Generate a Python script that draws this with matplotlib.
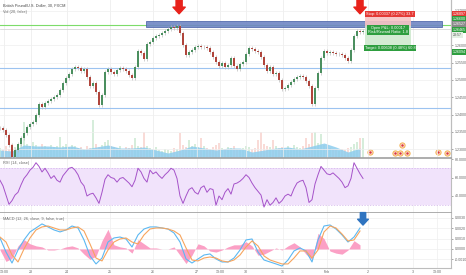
import matplotlib
matplotlib.use("Agg")
import numpy as np
import matplotlib.pyplot as plt
from matplotlib.patches import Rectangle
from matplotlib.transforms import blended_transform_factory

plt.rcParams['font.family'] = ['Liberation Sans', 'DejaVu Sans']

W, H = 466, 275
FS = 2.8

# ---------------- data (one sample every few 30-min bars) ----------------
close = [1.2361, 1.2355, 1.2341, 1.2312, 1.2277, 1.2297, 1.2315, 1.2332, 1.2347, 1.2364,
         1.2373, 1.2378, 1.2399, 1.2430, 1.2422, 1.2433, 1.2439, 1.2445, 1.2451, 1.2456,
         1.2471, 1.2491, 1.2506, 1.2517, 1.2532, 1.2537, 1.2534, 1.2526, 1.2532, 1.2508,
         1.2482, 1.2491, 1.2465, 1.2427, 1.2456, 1.2523, 1.2532, 1.2523, 1.2517, 1.2529,
         1.2534, 1.2532, 1.2526, 1.2514, 1.2506, 1.2537, 1.2584, 1.2578, 1.2560, 1.2604,
         1.2610, 1.2621, 1.2627, 1.2630, 1.2636, 1.2641, 1.2647, 1.2653, 1.2650, 1.2656,
         1.2636, 1.2601, 1.2572, 1.2581, 1.2586, 1.2595, 1.2598, 1.2595, 1.2595, 1.2592,
         1.2581, 1.2566, 1.2552, 1.2540, 1.2549, 1.2537, 1.2543, 1.2563, 1.2540, 1.2532,
         1.2546, 1.2552, 1.2575, 1.2592, 1.2589, 1.2584, 1.2581, 1.2566, 1.2543, 1.2526,
         1.2537, 1.2517, 1.2520, 1.2500, 1.2474, 1.2477, 1.2485, 1.2494, 1.2503, 1.2508,
         1.2511, 1.2508, 1.2497, 1.2482, 1.2430, 1.2477, 1.2520, 1.2563, 1.2584, 1.2578,
         1.2581, 1.2578, 1.2575, 1.2575, 1.2572, 1.2563, 1.2555, 1.2586, 1.2627, 1.2641,
         1.2638, 1.2641]

volume = [1000, 800, 1200, 900, 1400, 1100, 1300, 1500, 3600, 1400,
          1200, 1600, 1300, 1100, 1400, 1200, 1000, 1300, 1100, 1200,
          2100, 1200, 1400, 1100, 1300, 1200, 1000, 1100, 900, 1200,
          1000, 3800, 1400, 1100, 1300, 1600, 1800, 1200, 1100, 1000,
          1200, 900, 1100, 1000, 1300, 2000, 1200, 1100, 2600, 1200,
          1000, 900, 1100, 800, 700, 900, 800, 700, 1000, 900,
          2500, 1300, 1100, 1800, 1200, 1400, 1100, 2000, 1200, 1000,
          900, 1100, 1300, 1500, 1000, 900, 1100, 1000, 1200, 900,
          800, 1000, 1200, 1100, 900, 1000, 1800, 2600, 1400, 1200,
          1100, 1800, 1200, 1000, 1100, 900, 1200, 1000, 1300, 1100,
          1000, 1200, 2000, 1400, 2500, 2600, 1500, 2400, 1300, 1100,
          1000, 900, 800, 700, 900, 800, 1000, 1100, 1400, 1600,
          2000, 2000]

vol_ma_idx = list(range(0, 121, 4))
vol_ma = [800, 700, 1300, 1200, 1200, 1100, 1200, 900, 1100, 1300,
          1000, 1000, 1100, 800, 500, 800, 1200, 1000, 800, 1000,
          1000, 600, 800, 1000, 1100, 900, 1200, 1500, 1100, 600,
          1000]

rsi = [57, 51, 41, 31, 35, 41, 44, 52, 59, 63,
       68, 71, 76, 72, 66, 70, 65, 59, 62, 57,
       55, 62, 66, 70, 71, 68, 63, 55, 51, 40,
       42, 43, 38, 32, 44, 58, 63, 60, 59, 55,
       59, 60, 57, 54, 50, 57, 70, 66, 59, 55,
       68, 64, 66, 62, 59, 63, 66, 70, 68, 59,
       40, 32, 40, 47, 49, 44, 42, 49, 51, 44,
       48, 47, 30, 40, 36, 44, 48, 42, 53, 54,
       56, 59, 63, 60, 54, 49, 45, 41, 28, 36,
       30, 33, 38, 32, 35, 40, 42, 40, 48, 54,
       56, 57, 49, 33, 36, 53, 63, 72, 68, 64,
       63, 65, 62, 59, 55, 49, 51, 59, 76, 70,
       64, 59]

macd_idx = list(range(0, 121, 2))
macd = [10.6, -2.9, -13.5, -1.0, 8.7, 16.4, 20.2, 24.1, 21.2, 18.3,
        16.4, 18.3, 22.1, 20.2, 8.7, -6.7, -14.4, -8.7, 6.7, 10.6,
        11.5, 9.6, 1.9, 13.5, 19.2, 21.2, 21.2, 20.2, 19.2, 15.4,
        6.7, -9.6, -13.5, -9.6, -5.8, -4.8, -9.6, -12.5, -12.5, -8.7,
        -1.0, 8.7, 9.6, -2.9, -10.6, -12.5, -14.4, -16.4, -10.6, -1.9,
        1.0, -1.9, -12.5, 8.7, 22.1, 23.1, 19.2, 13.5, 6.7, 11.5,
        20.2]
signal = [11.5, 6.7, -5.8, -12.5, 0.0, 10.6, 18.3, 21.2, 22.1, 20.2,
          18.3, 18.3, 20.2, 21.2, 17.3, 4.8, -8.7, -11.5, -1.0, 6.7,
          9.6, 10.6, 6.7, 4.8, 13.5, 19.2, 20.2, 20.2, 19.2, 17.3,
          13.5, 1.0, -10.6, -11.5, -8.7, -7.7, -8.7, -11.5, -12.5, -10.6,
          -5.8, 1.9, 7.7, 2.9, -6.7, -10.6, -12.5, -14.4, -14.4, -8.7,
          -1.9, -1.9, -8.7, -1.0, 16.4, 22.1, 20.2, 14.4, 7.7, 8.7,
          17.3]
hist = [-1, -12, -9, 3, 9, 5, 3, 2, -1, -1,
        0, 2, 3, 1, -5, -10, -7, 8, 19, 4,
        2, 1, -4, 9, 5, 1, 1, 0, 0, 2,
        -6, -14, -6, 5, 3, -2, -3, -1, 2, 4,
        4, 7, 3, -6, -5, -2, 1, -1, 3, 6,
        2, -5, -10, 15, 10, -2, -4, -5, -1, 8,
        4]

tick_pos = [1.3, 10.3, 22.3, 36.7, 51, 65.7, 73.3, 82, 94.3, 109, 122.7, 137.7, 145.7]
tick_lbl = ['13:00', '23', '24', '25', '26', '27', '13:00', '30', '31', 'Feb', '2', '3', '13:00']

price_ticks = [1.230, 1.235, 1.240, 1.245, 1.250, 1.255, 1.260, 1.270]
rsi_ticks = [40, 60, 80]
macd_ticks = [-0.001, 0.0, 0.001, 0.002, 0.003]

res_line = 1.26587
last_line = 1.26471
support_lines = [1.25344, 1.24188]
zone_x = (48.7, 147.3)
zone_y = (1.26529, 1.26702)
entry, stop, target = 1.26560, 1.26897, 1.25952
pos_x = (121.5, 137.0)

events = [(123.3, 600), (131.7, 500), (133.3, 500), (134.0, 1300), (135.7, 500),
          (146.0, 600), (149.0, 500)]

# ---------------- figure ----------------
GREEN = '#4b8f5f'
RED = '#b0453c'
GRID = '#efefef'


def rect(x0, y0, x1, y1):
    return [x0 / W, 1 - y1 / H, (x1 - x0) / W, (y1 - y0) / H]


fig = plt.figure(figsize=(W / 100, H / 100), dpi=100)
ax_p = fig.add_axes(rect(0, 0, 451, 158))
ax_v = ax_p.twinx()
ax_r = fig.add_axes(rect(0, 158, 451, 213))
ax_m = fig.add_axes(rect(0, 213, 451, 268))

ax_p.set_zorder(ax_v.get_zorder() + 1)
ax_p.patch.set_visible(False)

XMAX = 150.33
for ax in (ax_p, ax_v, ax_r, ax_m):
    ax.set_xlim(0, XMAX)
    for s in ('top', 'left'):
        ax.spines[s].set_visible(False)
    ax.spines['right'].set_color('#bdbdbd')
    ax.spines['right'].set_linewidth(0.8)
    ax.spines['bottom'].set_color('#a0a0a0')
    ax.spines['bottom'].set_linewidth(1.2)
    ax.set_xticks(tick_pos)
    ax.tick_params(axis='x', length=0, labelbottom=False)
    for t in tick_pos:
        ax.axvline(t, color=GRID, lw=0.5, zorder=0)

for ax in (ax_p, ax_r, ax_m):
    ax.yaxis.tick_right()
    ax.tick_params(axis='y', labelsize=2.6, colors='#666666', length=1.5, width=0.4, pad=1)

ax_v.set_yticks([])
ax_v.spines['bottom'].set_visible(False)

# ---------------- price pane ----------------
x = np.arange(len(close))
c = np.array(close)
o = np.r_[c[0], c[:-1]]
up = c >= o
lo = np.minimum(o, c)
hi = np.maximum(o, c)

ax_p.set_ylim(1.22743, 1.27309)
ax_p.set_yticks(price_ticks)
ax_p.set_yticklabels([f'{v:.5f}' for v in price_ticks])
for v in price_ticks:
    ax_p.axhline(v, color=GRID, lw=0.5, zorder=0)

ax_p.axhline(res_line, color='#7ddc6a', lw=0.8, zorder=1)
ax_p.axhline(last_line, color='#cfcfcf', lw=0.5, zorder=1)
for v in support_lines:
    ax_p.axhline(v, color='#9cc3f0', lw=0.8, zorder=1)

ax_p.add_patch(Rectangle((zone_x[0], zone_y[0]), zone_x[1] - zone_x[0], zone_y[1] - zone_y[0],
                         fc='#6f86c4', ec='#4a62a8', lw=0.6, alpha=0.9, zorder=2))

ax_p.vlines(x, lo - 0.0005, hi + 0.0005, color='#bdbdbd', lw=0.5, zorder=3)
ax_p.bar(x, hi - lo + 0.00005, bottom=lo, width=0.6,
         color=np.where(up, GREEN, RED), lw=0, zorder=4)

# position tool (short)
ax_p.add_patch(Rectangle((pos_x[0], entry), pos_x[1] - pos_x[0], stop - entry,
                         fc='#f6c3c3', ec='none', alpha=0.9, zorder=2.5))
ax_p.add_patch(Rectangle((pos_x[0], target), pos_x[1] - pos_x[0], entry - target,
                         fc='#cfe9cf', ec='none', alpha=0.9, zorder=2.5))
box = dict(boxstyle='square,pad=0.25', ec='none')
ax_p.text(130.0, stop + 0.0002, 'Stop: 0.00337 (0.27%) 33.7', fontsize=FS, color='white',
          ha='center', va='center', bbox=dict(box, fc='#e53935'), zorder=6)
ax_p.text(129.3, entry - 0.0011, 'Open P&L: 0.00017\nRisk/Reward Ratio: 1.8', fontsize=FS,
          color='white', ha='center', va='center', linespacing=1.1,
          bbox=dict(box, fc='#2e9e3f'), zorder=6)
ax_p.text(130.0, target - 0.0004, 'Target: 0.00608 (0.48%) 60.8', fontsize=FS, color='white',
          ha='center', va='center', bbox=dict(box, fc='#2e9e3f'), zorder=6)

# arrows
ARROW = 'simple,head_width=1.1,head_length=0.6,tail_width=0.55'
for xi in (59.7, 120.0):
    ax_p.annotate('', xy=(xi, 1.2691), xytext=(xi, 1.2733),
                  arrowprops=dict(arrowstyle=ARROW, fc='#e8221b', ec='#e8221b',
                                  mutation_scale=8, shrinkA=0, shrinkB=0), zorder=7)

# right axis tags
trans = blended_transform_factory(ax_p.transAxes, ax_p.transData)
tags = [(1.26905, '1.26897', '#e53935', 'white'),
        (1.26760, '1.26600', '#2e9e3f', 'white'),
        (1.26616, '1.26527', '#8a8a8a', 'white'),
        (1.26442, '1.26465', '#2e9e3f', 'white'),
        (1.26298, '23:57', '#e3efe3', '#555555'),
        (1.25806, '1.26094', '#2e9e3f', 'white')]
for yv, txt, fc, tc in tags:
    ax_p.text(1.004, yv, txt, transform=trans, fontsize=2.6, color=tc, ha='left', va='center',
              clip_on=False, zorder=8, bbox=dict(boxstyle='square,pad=0.2', fc=fc, ec='none'))

ax_p.text(0.006, 0.975, 'British Pound/U.S. Dollar, 30, FXCM', transform=ax_p.transAxes,
          fontsize=FS, color='#444444', va='top', ha='left')
ax_p.text(0.006, 0.935, 'Vol (20, false)', transform=ax_p.transAxes,
          fontsize=FS, color='#666666', va='top', ha='left')

# volume
ax_v.set_ylim(0, 15800)
ax_v.bar(x, volume, width=0.6, color=np.where(up, '#a6d9b0', '#f2b0a8'), alpha=0.45, lw=0)
ax_v.fill_between(vol_ma_idx, 0, vol_ma, color='#8dcdee', alpha=0.85, lw=0)
ev = np.array(events)
ax_v.scatter(ev[:, 0], ev[:, 1], s=14, fc='#fbd9d9', ec='#f5b14a', lw=0.7, zorder=5, clip_on=False)
ax_v.scatter(ev[:, 0], ev[:, 1], s=3, c='#d9343a', lw=0, zorder=6, clip_on=False)

# ---------------- RSI pane ----------------
ax_r.set_ylim(21.6, 81.1)
ax_r.set_yticks(rsi_ticks)
ax_r.set_yticklabels([f'{v:.4f}' for v in rsi_ticks])
ax_r.axhspan(30, 70, color='#f1e3fb', lw=0, zorder=0)
for v in (30, 70):
    ax_r.axhline(v, color='#d2b3ea', lw=0.5, ls=(0, (2, 2)), zorder=1)
ax_r.plot(np.arange(len(rsi)), rsi, color='#a552c9', lw=0.7, zorder=3)
ax_r.text(0.006, 0.94, 'RSI (14, close)', transform=ax_r.transAxes,
          fontsize=FS, color='#666666', va='top', ha='left')

# ---------------- MACD pane ----------------
sc = 1e-4
ax_m.set_ylim(-0.00183, 0.00346)
ax_m.set_yticks(macd_ticks)
ax_m.set_yticklabels([f'{v:.4f}' for v in macd_ticks])
for v in macd_ticks:
    ax_m.axhline(v, color=GRID, lw=0.5, zorder=0)
ax_m.fill_between(macd_idx, 0, np.array(hist) * sc, color='#fb8fbb', alpha=0.85, lw=0, zorder=2)
ax_m.plot(macd_idx, np.array(macd) * sc, color='#5cb8f2', lw=0.8, zorder=3)
ax_m.plot(macd_idx, np.array(signal) * sc, color='#f7a55e', lw=0.8, zorder=3)
ax_m.annotate('', xy=(121.0, 0.0023), xytext=(121.0, 0.0035),
              arrowprops=dict(arrowstyle=ARROW, fc='#2f74c0', ec='#2f74c0',
                              mutation_scale=7, shrinkA=0, shrinkB=0))
ax_m.text(0.006, 0.93, 'MACD (12, 26, close, 9, false, true)', transform=ax_m.transAxes,
          fontsize=FS, color='#666666', va='top', ha='left')
ax_m.spines['bottom'].set_color('#bdbdbd')
ax_m.spines['bottom'].set_linewidth(0.8)
ax_m.tick_params(axis='x', labelbottom=True, labelsize=2.6, colors='#666666', pad=1.5)
ax_m.set_xticklabels(tick_lbl)

fig.savefig('out.png', dpi=100)
